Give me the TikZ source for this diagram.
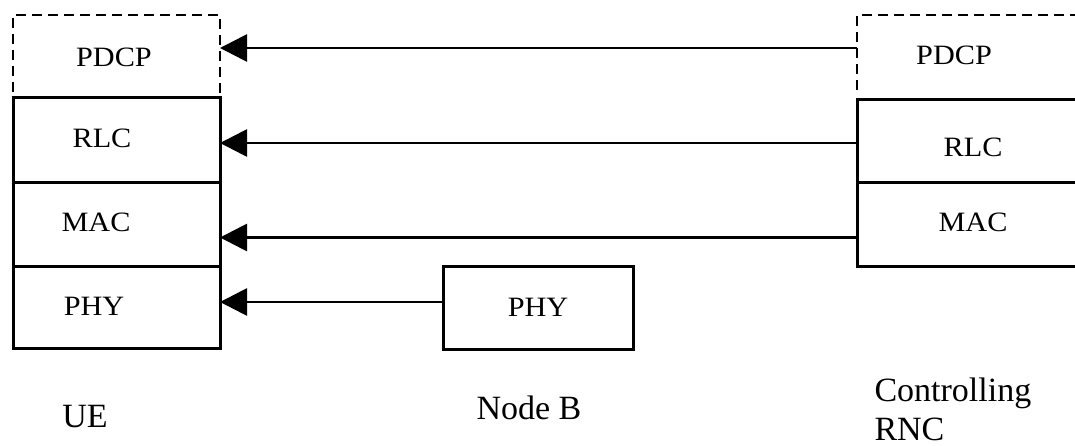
\documentclass[tikz,border=0pt]{standalone}
\usepackage{fontspec}
\setmainfont{Liberation Serif}
\usetikzlibrary{arrows.meta}
\begin{document}
\begin{tikzpicture}[x=1pt,y=-1pt,line width=3pt,
  layerbox/.style={draw, rectangle, outer sep=0pt, inner sep=0pt, line width=3pt},
  dashframe/.style={dash pattern=on 10pt off 6pt, line width=2.6pt},
  ghost/.style={rectangle, outer sep=0pt, inner sep=0pt},
  arr/.style={-{Triangle[length=27pt,width=27pt]}, line width=2.8pt},
  lbl/.style={anchor=base, inner sep=0pt, font=\fontsize{28}{32}\selectfont, xscale=1.08},
  entname/.style={anchor=base, inner sep=0pt, font=\fontsize{34}{39}\selectfont},
  entnamel/.style={anchor=base west, inner sep=0pt, font=\fontsize{34}{39}\selectfont}]
\useasboundingbox (0,0) rectangle (1075,446);

% UE stack
\node[ghost, minimum width=207pt, minimum height=83pt, anchor=north west] (uePDCP) at (13,15) {};
\node[layerbox, minimum width=207pt, minimum height=85pt, anchor=north west] (ueRLC) at (13,98) {};
\node[layerbox, minimum width=207pt, minimum height=83pt, anchor=north west] (ueMAC) at (13,183) {};
\node[layerbox, minimum width=207pt, minimum height=82pt, anchor=north west] (uePHY) at (13,266) {};
\draw[dashframe] ([yshift=6pt]uePDCP.south west) -- (uePDCP.north west) -- (uePDCP.north east) -- (uePDCP.south east);

% Node B
\node[layerbox, minimum width=190pt, minimum height=83pt, anchor=north west] (nbPHY) at (443,266) {};

% Controlling RNC stack
\node[ghost, minimum width=233pt, minimum height=85pt, anchor=north west] (rncPDCP) at (857,15) {};
\node[layerbox, minimum width=233pt, minimum height=83pt, anchor=north west] (rncRLC) at (857,100) {};
\node[layerbox, minimum width=233pt, minimum height=83pt, anchor=north west] (rncMAC) at (857,183) {};
\draw[dashframe] ([yshift=10pt]rncPDCP.south west) -- (rncPDCP.north west) -- (rncPDCP.north east);

% labels in boxes
\node[lbl] (tuePDCP) at (114,67) {PDCP};
\node[lbl] (tueRLC) at (102,148) {RLC};
\node[lbl] (tueMAC) at (96,232) {MAC};
\node[lbl] (tuePHY) at (94,315) {PHY};
\node[lbl] (tnbPHY) at (538,316) {PHY};
\node[lbl] (trncPDCP) at (954,65) {PDCP};
\node[lbl] (trncRLC) at (973,157) {RLC};
\node[lbl] (trncMAC) at (973,232) {MAC};

% entity names
\node[entname] (nameUE) at (85,427) {UE};
\node[entname] (nameNB) at (529,419) {Node B};
\node[entnamel] (nameRNC1) at (873,401) {Controlling};
\node[entnamel] (nameRNC2) at (873,440) {RNC};

% connectors
\draw[arr] ([yshift=9.5pt]rncPDCP.west) -- ([yshift=9.5pt]rncPDCP.west -| uePDCP.east);
\draw[arr] ([yshift=-1.5pt]rncRLC.west) -- ([yshift=-1.5pt]rncRLC.west -| ueRLC.east);
\draw[arr] ([yshift=-13pt]rncMAC.west) -- ([yshift=-13pt]rncMAC.west -| ueMAC.east);
\draw[arr] ([yshift=5.5pt]nbPHY.west) -- ([yshift=5.5pt]nbPHY.west -| uePHY.east);
\end{tikzpicture}
\end{document}
